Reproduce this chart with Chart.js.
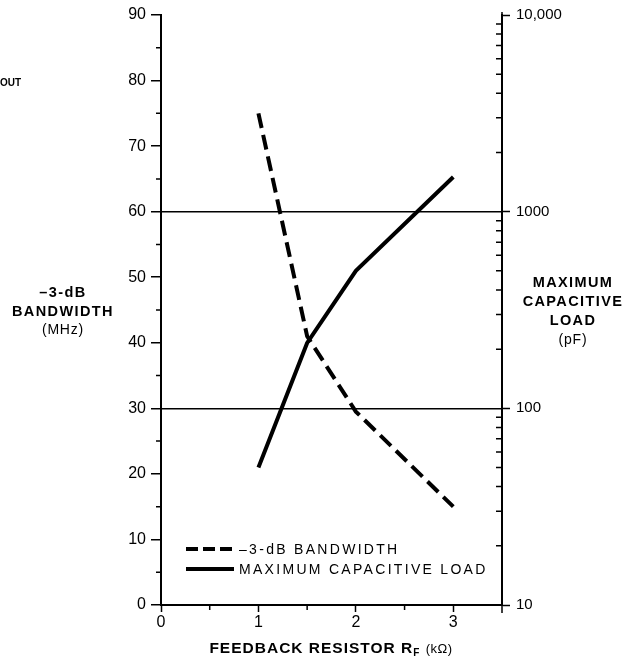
<!DOCTYPE html>
<html>
<head>
<meta charset="utf-8">
<script src="https://cdn.jsdelivr.net/npm/chart.js@4.4.0/dist/chart.umd.min.js"></script>
<style>
  html, body { margin: 0; padding: 0; background: #fff; }
  #wrap { position: relative; width: 637px; height: 659px; font-family: "Liberation Sans", Arial, sans-serif; color: #000; }
  #c { position: absolute; left: 0; top: 0; }
  .t { position: absolute; text-align: center; line-height: 19px; white-space: nowrap; }
  .b { font-weight: bold; font-size: 14.5px; letter-spacing: 1.4px; }
  .r { font-size: 14px; letter-spacing: 0.8px; }
  .leg { position: absolute; left: 239px; font-size: 14px; letter-spacing: 2.3px; white-space: nowrap; line-height: 16px; }
</style>
</head>
<body>
<div id="wrap">
  <canvas id="c" width="637" height="659"></canvas>
  <div class="t" style="left:0px; top:73px; font-size:10px; font-weight:bold;">OUT</div>
  <div class="t" style="left:3px; width:120px; top:283px; line-height:18.5px;">
    <div class="b">–3-dB</div><div class="b">BANDWIDTH</div><div class="r">(MHz)</div>
  </div>
  <div class="t" style="left:513px; width:120px; top:273px;">
    <div class="b">MAXIMUM</div><div class="b">CAPACITIVE</div><div class="b">LOAD</div><div class="r">(pF)</div>
  </div>
  <div class="t" style="left:160px; width:342px; top:638px; font-weight:bold; font-size:15.5px; letter-spacing:1px;">
    FEEDBACK RESISTOR R<sub style="font-size:10px; vertical-align:-3px;">F</sub> <span style="font-weight:normal; font-size:13px; letter-spacing:0.5px;">(kΩ)</span>
  </div>
  <div class="leg" style="top:541px;">–3-dB BANDWIDTH</div>
  <div class="leg" style="top:561px;">MAXIMUM CAPACITIVE LOAD</div>
</div>
<script>
// ---- data ----
const rfValues = [1, 1.5, 2, 3];                 // feedback resistor, kΩ
const bandwidthMHz = [75, 41, 29.5, 15];         // -3 dB bandwidth (left axis)
const capLoadPF = [50, 215, 500, 1500];          // maximum capacitive load (right axis, log)
const leftTicks = [0, 10, 20, 30, 40, 50, 60, 70, 80, 90];
const rightTicks = [10, 100, 1000, 10000];
const xTicks = [0, 1, 2, 3];
const legendSeries = ['–3-dB BANDWIDTH', 'MAXIMUM CAPACITIVE LOAD'];

const minorTicks = {
  id: 'minorTicks',
  afterDraw(chart) {
    const ctx = chart.ctx;
    const a = chart.chartArea;
    const y = chart.scales.y, y1 = chart.scales.y1, x = chart.scales.x;
    ctx.save();
    ctx.strokeStyle = '#000';
    ctx.lineWidth = 1.5;
    ctx.beginPath();
    for (let v = 5; v < 90; v += 10) {
      const p = y.getPixelForValue(v);
      ctx.moveTo(a.left - 5, p); ctx.lineTo(a.left, p);
    }
    for (let d = 10; d < 10000; d *= 10) {
      for (let m = 2; m <= 9; m++) {
        const p = y1.getPixelForValue(m * d);
        ctx.moveTo(a.right - 6, p); ctx.lineTo(a.right, p);
      }
    }
    for (const v of [0.5, 1.5, 2.5]) {
      const p = x.getPixelForValue(v);
      ctx.moveTo(p, a.bottom); ctx.lineTo(p, a.bottom + 5);
    }
    ctx.moveTo(a.right, a.top - 3); ctx.lineTo(a.right, a.bottom + 8);
    ctx.stroke();
    ctx.restore();
  }
};

const legendSamples = {
  id: 'legendSamples',
  afterDraw(chart) {
    const ctx = chart.ctx;
    ctx.save();
    ctx.strokeStyle = '#000';
    ctx.lineWidth = 4;
    ctx.setLineDash([12, 5]);
    ctx.beginPath(); ctx.moveTo(186, 549); ctx.lineTo(234, 549); ctx.stroke();
    ctx.setLineDash([]);
    ctx.beginPath(); ctx.moveTo(186, 569); ctx.lineTo(234, 569); ctx.stroke();
    ctx.restore();
  }
};

new Chart(document.getElementById('c'), {
  type: 'line',
  data: {
    datasets: [
      {
        label: legendSeries[0],
        data: rfValues.map((r, i) => ({ x: r, y: bandwidthMHz[i] })),
        yAxisID: 'y',
        borderColor: '#000',
        borderWidth: 4,
        borderDash: [15, 7],
        pointRadius: 0,
        tension: 0,
        fill: false
      },
      {
        label: legendSeries[1],
        data: rfValues.map((r, i) => ({ x: r, y: capLoadPF[i] })),
        yAxisID: 'y1',
        borderColor: '#000',
        borderWidth: 4,
        pointRadius: 0,
        tension: 0,
        fill: false
      }
    ]
  },
  options: {
    responsive: false,
    animation: false,
    devicePixelRatio: 1,
    layout: { padding: { top: 14, left: 0, right: 0, bottom: 0 } },
    plugins: { legend: { display: false }, tooltip: { enabled: false } },
    scales: {
      x: {
        type: 'linear',
        min: 0, max: 3.5,
        afterBuildTicks(s) { s.ticks = xTicks.map(v => ({ value: v })); },
        afterFit(s) { s.height = 54; },
        ticks: { color: '#000', font: { family: 'Liberation Sans', size: 16 }, padding: 1 },
        grid: { drawOnChartArea: false, tickLength: 7, tickColor: '#000', tickWidth: 1.5 },
        border: { display: true, color: '#000', width: 2 }
      },
      y: {
        type: 'linear',
        position: 'left',
        min: 0, max: 90,
        afterBuildTicks(s) { s.ticks = leftTicks.map(v => ({ value: v })); },
        afterFit(s) { s.width = 161; },
        ticks: { color: '#000', font: { family: 'Liberation Sans', size: 16 }, padding: 5 },
        grid: {
          color: c => (c.tick && (c.tick.value === 30 || c.tick.value === 60)) ? '#000' : 'rgba(0,0,0,0)',
          lineWidth: 1.5,
          tickLength: 10, tickColor: '#000', tickWidth: 1.5
        },
        border: { display: true, color: '#000', width: 2 }
      },
      y1: {
        type: 'logarithmic',
        position: 'right',
        min: 10, max: 10000,
        afterBuildTicks(s) { s.ticks = rightTicks.map(v => ({ value: v })); },
        afterFit(s) { s.width = 135; },
        ticks: {
          color: '#000', font: { family: 'Liberation Sans', size: 15 }, padding: 6,
          callback: v => (v === 10000 ? '10,000' : String(v))
        },
        grid: { drawOnChartArea: false, tickLength: 8, tickColor: '#000', tickWidth: 1.5 },
        border: { display: true, color: '#000', width: 2 }
      }
    }
  },
  plugins: [minorTicks, legendSamples]
});
</script>
</body>
</html>
